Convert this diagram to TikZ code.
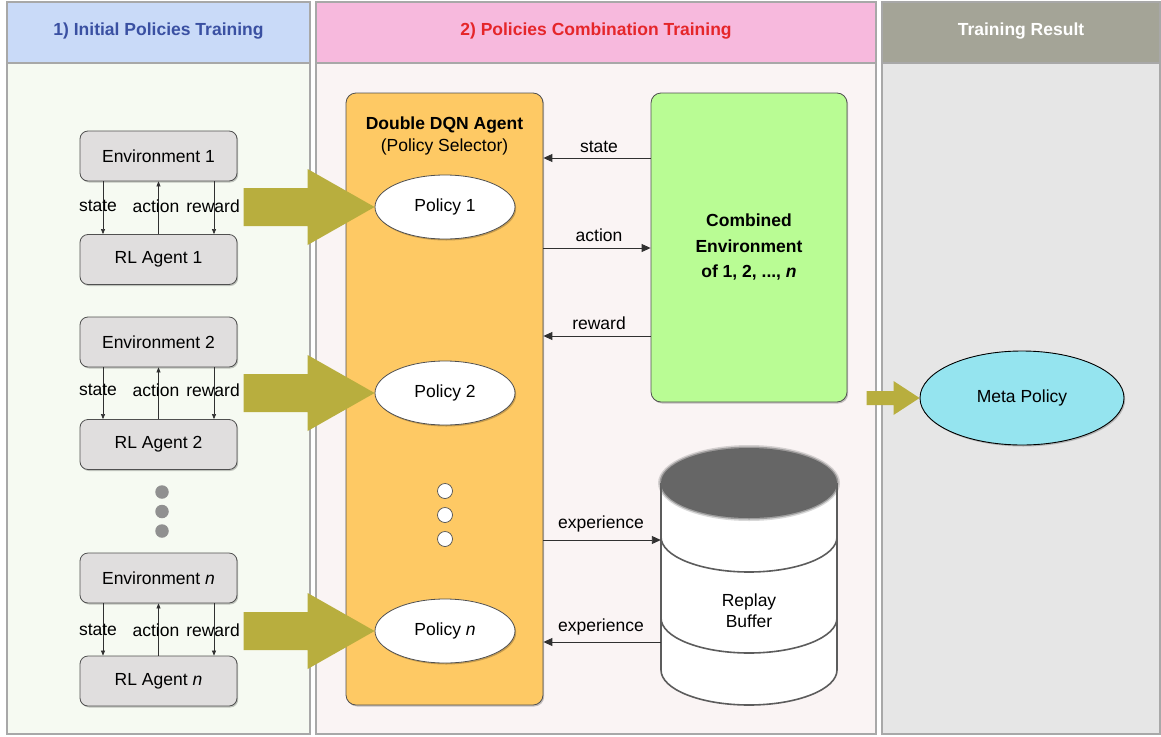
\documentclass[tikz,border=0pt]{standalone}
\usepackage{fontspec}
\setmainfont{Liberation Sans}
\usetikzlibrary{shapes.geometric,arrows.meta,calc,shadows}

\definecolor{hdrA}{HTML}{C9DAF8}
\definecolor{hdrAtext}{HTML}{3A50A2}
\definecolor{bodyA}{HTML}{F6FAF2}
\definecolor{hdrB}{HTML}{F7B9DD}
\definecolor{hdrBtext}{HTML}{E5262A}
\definecolor{bodyB}{HTML}{FAF4F4}
\definecolor{hdrC}{HTML}{A4A497}
\definecolor{bodyC}{HTML}{E6E6E6}
\definecolor{laneline}{HTML}{A8A8A8}
\definecolor{boxfill}{HTML}{E0DEDE}
\definecolor{boxline}{HTML}{505050}
\definecolor{agentfill}{HTML}{FEC964}
\definecolor{envfill}{HTML}{B9FC94}
\definecolor{metafill}{HTML}{95E4EF}
\definecolor{fatolive}{HTML}{B8AE3E}
\definecolor{dotgray}{HTML}{909090}
\definecolor{flowline}{HTML}{303030}
\definecolor{cylline}{HTML}{5C5C5C}
\definecolor{cyltop}{HTML}{666666}

\begin{document}
\begin{tikzpicture}[x=1pt,y=-1pt,
  every node/.style={font=\fontsize{17.5}{21}\selectfont,inner sep=0pt},
  lane/.style={draw=laneline,line width=1.3pt},
  hdrfont/.style={font=\fontsize{17.5}{21}\selectfont\bfseries},
  softshadow/.style={drop shadow={shadow xshift=1.2pt,shadow yshift=-1.5pt,opacity=0.22,fill=black}},
  envbox/.style={draw=boxline,fill=boxfill,rounded corners=8pt,minimum width=157pt,
    minimum height=50pt,line width=0.8pt,softshadow},
  policy/.style={ellipse,draw=boxline,fill=white,minimum width=140pt,minimum height=64pt,
    line width=0.8pt,softshadow},
  flow/.style={-{Triangle[length=9pt,width=8pt]},line width=0.9pt,draw=flowline},
  thinflow/.style={-{Triangle[length=5pt,width=4pt]},line width=0.6pt,draw=flowline},
  fat/.style={fill=fatolive},
  cyl/.style={draw=cylline,line width=1.6pt},
  smalldot/.style={circle,fill=dotgray,minimum size=13.5pt},
  whitedot/.style={circle,draw=boxline,fill=white,line width=0.7pt,minimum size=15pt},
]
\useasboundingbox (0,0) rectangle (1161,736);
\fill[white] (0,0) rectangle (1161,736);

% ---------- three lanes ----------
\filldraw[lane,fill=bodyA] (7,2) rectangle (310,734);
\filldraw[lane,fill=hdrA] (7,2) rectangle (310,63);
\filldraw[lane,fill=bodyB] (316,2) rectangle (876,734);
\filldraw[lane,fill=hdrB] (316,2) rectangle (876,63);
\filldraw[lane,fill=bodyC] (882,2) rectangle (1160,734);
\filldraw[lane,fill=hdrC] (882,2) rectangle (1160,63);

\node[hdrfont,text=hdrAtext] (titleA) at (158.5,31) {1) Initial Policies Training};
\node[hdrfont,text=hdrBtext] (titleB) at (596,31) {2) Policies Combination Training};
\node[hdrfont,text=white] (titleC) at (1021,31) {Training Result};

% ---------- initial policies: environment / agent pairs ----------
\node[envbox] (env1) at (158.5,156) {Environment 1};
\node[envbox] (agent1) at (158.5,259.5) {RL Agent 1};
\node[envbox] (env2) at (158.5,342) {Environment 2};
\node[envbox] (agent2) at (158.5,444.5) {RL Agent 2};
\node[envbox] (envn) at (158.5,578) {Environment \textit{n}};
\node[envbox] (agentn) at (158.5,681) {RL Agent \textit{n}};

\foreach \e/\a/\y in {env1/agent1/206, env2/agent2/390, envn/agentn/630}{
  \draw[thinflow] ([xshift=-55.5pt]\e.south) -- ([xshift=-55.5pt]\a.north);
  \draw[thinflow] (\a.north) -- (\e.south);
  \draw[thinflow] ([xshift=55.5pt]\e.south) -- ([xshift=55.5pt]\a.north);
  \node (\e-s) at (98,\y) {state};
  \node (\e-a) at (156,\y) {action};
  \node (\e-r) at (213,\y) {reward};
}

\node[smalldot] (ldotA) at (162,492) {};
\node[smalldot] (ldotB) at (162,511.5) {};
\node[smalldot] (ldotC) at (162,531) {};

% ---------- policy selector ----------
\node[draw=boxline,fill=agentfill,rounded corners=10pt,minimum width=197pt,
  minimum height=612pt,line width=0.8pt,softshadow] (dqn) at (444.5,399) {};
\node[font=\fontsize{17.5}{21}\selectfont\bfseries] (dqnname) at (444.5,125) {Double DQN Agent};
\node (dqnrole) at (444.5,147) {(Policy Selector)};

\node[policy] (pol1) at (445,207) {Policy 1};
\node[policy] (pol2) at (445,393) {Policy 2};
\node[policy] (poln) at (445,631) {Policy \textit{n}};

\node[whitedot] (wdotA) at (445,491) {};
\node[whitedot] (wdotB) at (445,515) {};
\node[whitedot] (wdotC) at (445,539) {};

% fat transfer arrows, tip on the policy ellipse
\foreach \p in {pol1,pol2,poln}{
  \fill[fat] (\p.west) -- ++(-67,-38) -- ++(0,19) -- ++(-64,0) -- ++(0,38)
    -- ++(64,0) -- ++(0,19) -- cycle;
}

% ---------- combined environment ----------
\node[draw=boxline,fill=envfill,rounded corners=10pt,minimum width=196pt,
  minimum height=309pt,line width=0.8pt,softshadow,align=center,
  font=\fontsize{17.5}{25.5}\selectfont\bfseries] (comb) at (749,247.5)
  {Combined\\Environment\\of 1, 2, ..., \textit{n}};

\draw[flow] (comb.west |- 0,158) -- (dqn.east |- 0,158);
\draw[flow] (dqn.east |- 0,248) -- (comb.west |- 0,248);
\draw[flow] (comb.west |- 0,336) -- (dqn.east |- 0,336);
\node (lstate) at (599,147) {state};
\node (laction) at (599,235) {action};
\node (lreward) at (599,323) {reward};

% ---------- replay buffer ----------
\fill[white] (661,483) -- (661,670) arc[start angle=180,end angle=360,x radius=88pt,y radius=35pt]
  -- (837,483) -- cycle;
\draw[cyl] (661,483) -- (661,670) arc[start angle=180,end angle=360,x radius=88pt,y radius=35pt]
  -- (837,483);
\draw[cyl] (661,537) arc[start angle=180,end angle=360,x radius=88pt,y radius=35pt];
\draw[cyl] (661,618) arc[start angle=180,end angle=360,x radius=88pt,y radius=35pt];
\fill[cyltop,opacity=0.25] (749,483) ellipse [x radius=91pt,y radius=38pt];
\fill[cyltop,opacity=0.5] (749,483) ellipse [x radius=89.5pt,y radius=36.5pt];
\fill[cyltop] (749,483) ellipse [x radius=88pt,y radius=35pt];
\node[minimum width=176pt,minimum height=257pt] (buf) at (749,576.5) {};
\node[align=center,font=\fontsize{17.5}{21}\selectfont] (buftext) at (749,611) {Replay\\Buffer};

\draw[flow] (dqn.east |- 0,540) -- (buf.west |- 0,540);
\draw[flow] (buf.west |- 0,642) -- (dqn.east |- 0,642);
\node (lexpA) at (601,524) {experience};
\node (lexpB) at (601,627) {experience};

% ---------- training result ----------
\node[ellipse,draw=black,fill=metafill,minimum width=204pt,minimum height=94pt,
  line width=0.9pt,softshadow] (meta) at (1022,398) {Meta Policy};
\fill[fat] (meta.west) -- ++(-26,-17) -- ++(0,10) -- ++(-27,0) -- ++(0,14)
  -- ++(27,0) -- ++(0,10) -- cycle;

\end{tikzpicture}
\end{document}
